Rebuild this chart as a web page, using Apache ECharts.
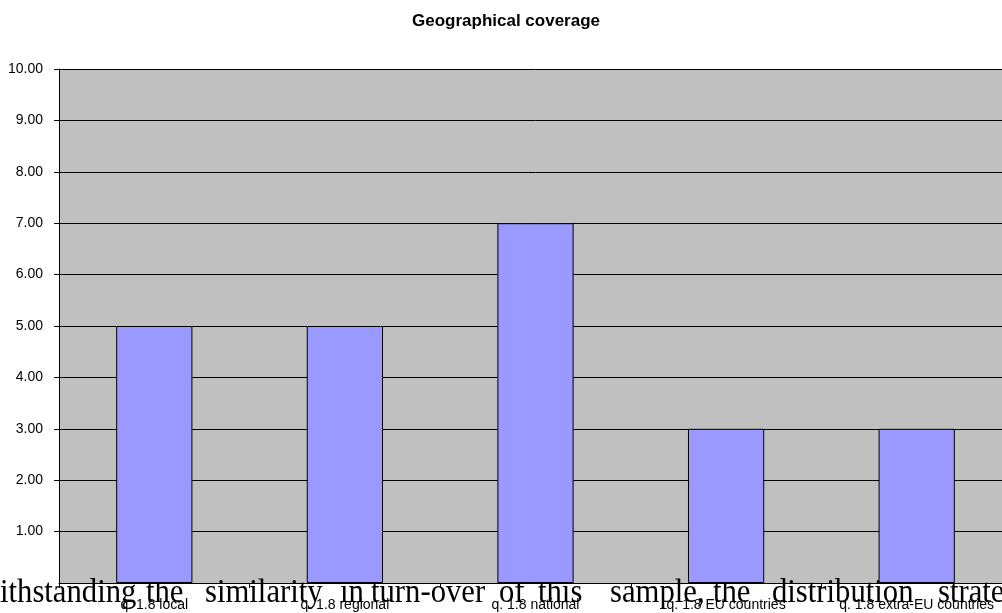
<!DOCTYPE html>
<html>
<head>
<meta charset="utf-8">
<script src="https://cdn.jsdelivr.net/npm/echarts@6/dist/echarts.min.js"></script>
<style>
  html, body { margin: 0; padding: 0; background: #fff; overflow: hidden; }
  /* the plot runs a little past the right edge of the page */
  #chart { width: 1012px; height: 613px; }
</style>
</head>
<body>
<div id="chart"></div>
<script>
// Geographical coverage of the sample (question 1.8)
const categories = ['q. 1.8 local', 'q. 1.8 regional', 'q. 1.8 national', 'q. 1.8 EU countries', 'q. 1.8 extra-EU countries'];
const coverageValues = [5, 5, 7, 3, 3];
const yMin = 0;
const yMax = 10;
const yStep = 1;

// Running body text of the surrounding report, one word at a time
const bodyWords = ['ithstanding', 'the', 'similarity', 'in', 'turn-over', 'of', 'this', 'sample,', 'the', 'distribution', 'strate'];
const bodyWordX = [0, 146, 205, 340, 371, 499, 538, 610, 713, 772, 938];

const chart = echarts.init(document.getElementById('chart'), null, { renderer: 'canvas' });

const sans = '"Liberation Sans", Arial, sans-serif';

chart.setOption({
  animation: false,
  backgroundColor: '#ffffff',
  title: {
    text: 'Geographical coverage',
    left: 'center',
    top: 8,
    textStyle: { fontFamily: sans, fontSize: 17, fontWeight: 'bold', color: '#000' }
  },
  grid: {
    left: 59,
    top: 69,
    right: 0,
    height: 514,
    show: true,
    backgroundColor: '#C0C0C0',
    borderWidth: 0
  },
  xAxis: {
    type: 'category',
    data: categories,
    axisLine: { show: true, lineStyle: { color: '#000', width: 1 } },
    axisTick: { show: true, length: 5, lineStyle: { color: '#000' } },
    axisLabel: { color: '#000', fontFamily: sans, fontSize: 14, margin: 15, interval: 0 },
    splitLine: { show: false }
  },
  yAxis: {
    type: 'value',
    min: yMin,
    max: yMax,
    interval: yStep,
    axisLine: { show: true, lineStyle: { color: '#000', width: 1 } },
    axisTick: { show: true, length: 5, lineStyle: { color: '#000' } },
    axisLabel: {
      color: '#000', fontFamily: sans, fontSize: 14, margin: 16,
      showMinLabel: false,
      formatter: v => v.toFixed(2)
    },
    splitLine: { show: true, lineStyle: { color: '#000', width: 1 } }
  },
  series: [{
    type: 'bar',
    data: coverageValues,
    barWidth: '40%',
    itemStyle: { color: '#9999FF', borderColor: '#000', borderWidth: 1 }
  }],
  graphic: bodyWords.map((w, i) => ({
    type: 'text',
    x: bodyWordX[i],
    y: 593,
    scaleX: 0.93,
    z: 0,
    style: {
      text: w,
      font: '33px "Liberation Serif", "Times New Roman", serif',
      fill: '#000',
      verticalAlign: 'middle'
    }
  }))
});
</script>
</body>
</html>
